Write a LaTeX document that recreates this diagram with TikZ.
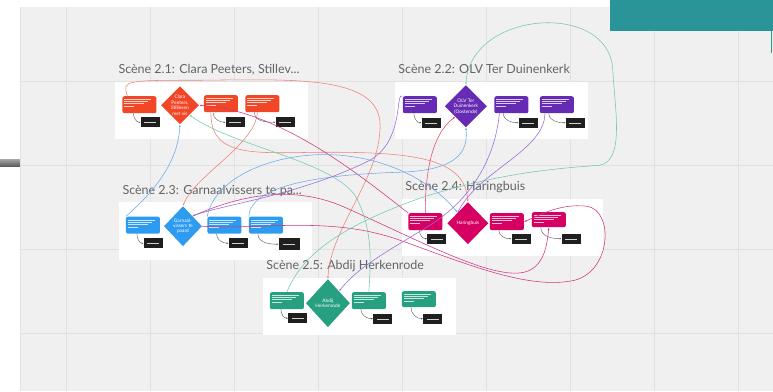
\documentclass[tikz,border=0pt]{standalone}
\usepackage{fontspec}
\setmainfont{Lato}
\usetikzlibrary{shapes.geometric,positioning,arrows.meta}
\definecolor{board}{RGB}{240,240,240}
\definecolor{gridgray}{RGB}{225,225,225}
\definecolor{titlegray}{RGB}{100,100,100}
\definecolor{miroteal}{RGB}{42,149,153}
\definecolor{sceneA}{RGB}{242,71,38}
\definecolor{sceneB}{RGB}{101,44,179}
\definecolor{sceneC}{RGB}{45,155,240}
\definecolor{sceneD}{RGB}{214,0,98}
\definecolor{sceneE}{RGB}{38,160,128}
\definecolor{lnsalmon}{RGB}{236,130,120}
\definecolor{lnred}{RGB}{232,70,100}
\definecolor{lnpurple}{RGB}{150,105,215}
\definecolor{lnblue}{RGB}{105,170,235}
\definecolor{lnteal}{RGB}{115,200,175}
\definecolor{lnmagenta}{RGB}{210,50,125}

\begin{document}
\begin{tikzpicture}[x=1pt, y=-1pt,
    panel/.style={fill=white, inner sep=0, minimum width=193, minimum height=57},
    title/.style={anchor=base west, text=titlegray, font=\fontsize{12.5}{14}\selectfont},
    tbox/.style={rounded corners=2pt, fill=#1, inner sep=0, minimum width=34, minimum height=17,
        path picture={\draw[white, line width=0.35pt, opacity=0.75]
            ([xshift=2pt,yshift=-3pt]path picture bounding box.north west) -- ++(27pt,0)
            ([xshift=2pt,yshift=-5pt]path picture bounding box.north west) -- ++(24pt,0)
            ([xshift=2pt,yshift=-7pt]path picture bounding box.north west) -- ++(20pt,0)
            ([xshift=2pt,yshift=-10pt]path picture bounding box.north west) -- ++(10pt,0);}},
    kbox/.style={fill=black!88, inner sep=0, minimum width=19, minimum height=10,
        path picture={\draw[white, line width=0.35pt, opacity=0.8]
            ([xshift=-6pt]path picture bounding box.center) -- ++(12pt,0);}},
    dia/.style={diamond, fill=#1, inner sep=0, text=white, align=center,
        font=\fontsize{4.8}{5.4}\selectfont, minimum width=38, minimum height=38},
    stub/.style={draw=black!65, line width=0.4pt, -{Latex[length=2pt]}},
    link/.style={draw=#1, line width=0.55pt, -{Latex[length=2.5pt]}}]

    % board
    \fill[white] (0,0) rectangle (773,391);
    \fill[board] (20,7) rectangle (773,391);
    \foreach \x in {66,150,...,738} \draw[gridgray] (\x,7) -- (\x,391);
    \foreach \y in {81,165,249,333} \draw[gridgray] (20,\y) -- (773,\y);
    \draw[gridgray] (20,7) -- (20,391);
    \shade[top color=black!35, bottom color=black!65] (0,159) rectangle (20,166);
    \fill[miroteal] (610,0) rectangle (773,31);
    \draw[miroteal, line width=1pt] (772,31) -- (772,53);

    % scene 2.1
    \node[panel] (P1) at (211.5,110) {};
    \node[title] (T1) at (115,73) {Scène 2.1: Clara Peeters, Stillev...};
    \node[dia=sceneA] (D1) at (180,105) {Clara\\Peeters,\\Stilleven\\met vis};
    \node[tbox=sceneA] (A1) at (139.5,104.5) {};
    \node[tbox=sceneA] (B1) at (221,103.5) {};
    \node[tbox=sceneA] (C1) at (262.5,103.5) {};
    \node[kbox] (K1) at (150.5,122) {};
    \node[kbox] (L1) at (235.5,122) {};
    \node[kbox] (M1) at (285.5,122) {};

    % scene 2.2
    \node[panel] (P2) at (491.5,110.5) {};
    \node[title] (T2) at (395,73) {Scène 2.2: OLV Ter Duinenkerk};
    \node[dia=sceneB, minimum width=42, minimum height=42] (D2) at (466,106) {OLV Ter\\Duinenkerk\\(Oostende)};
    \node[tbox=sceneB] (A2) at (420,104.5) {};
    \node[tbox=sceneB] (B2) at (511.5,104.5) {};
    \node[tbox=sceneB] (C2) at (557,104.5) {};
    \node[kbox] (K2) at (431.5,122.5) {};
    \node[kbox] (L2) at (528.5,122.5) {};
    \node[kbox] (M2) at (575.5,122.5) {};

    % scene 2.3
    \node[panel, minimum height=58] (P3) at (215.5,231) {};
    \node[title] (T3) at (119,194) {Scène 2.3: Garnaalvissers te pa...};
    \node[dia=sceneC, minimum height=40] (D3) at (183,226) {Garnaal-\\vissers te\\paard};
    \node[tbox=sceneC] (A3) at (143,225) {};
    \node[tbox=sceneC] (B3) at (224.5,225) {};
    \node[tbox=sceneC] (C3) at (266,225) {};
    \node[kbox] (K3) at (153.5,243) {};
    \node[kbox] (L3) at (238.5,243) {};
    \node[kbox, minimum width=21, minimum height=12] (M3) at (289.5,244) {};

    % scene 2.4
    \node[panel, minimum width=201] (P4) at (502.5,227.5) {};
    \node[title] (T4) at (402,190) {Scène 2.4: Haringbuis};
    \node[dia=sceneD, minimum width=41, minimum height=42] (D4) at (468,223) {Haringbuis};
    \node[tbox=sceneD] (A4) at (425.5,221.5) {};
    \node[tbox=sceneD] (B4) at (507,221.5) {};
    \node[tbox=sceneD, minimum height=15] (C4) at (549,219.5) {};
    \node[kbox] (K4) at (437,238.5) {};
    \node[kbox] (L4) at (521.5,238.5) {};
    \node[kbox] (M4) at (571.5,238.5) {};

    % scene 2.5
    \node[panel] (P5) at (359.5,306.5) {};
    \node[title] (T5) at (263,269) {Scène 2.5: Abdij Herkenrode};
    \node[dia=sceneE, minimum width=44, minimum height=48] (D5) at (328,303) {Abdij\\Herkenrode};
    \node[tbox=sceneE] (A5) at (287,300.5) {};
    \node[tbox=sceneE] (B5) at (369,300.5) {};
    \node[tbox=sceneE, minimum height=16] (C5) at (419,299) {};
    \node[kbox] (K5) at (298,318) {};
    \node[kbox] (L5) at (383,318.5) {};
    \node[kbox] (M5) at (433,318.5) {};

    % box to note
    \path ([xshift=-6pt]A1.south) edge[stub, out=-90, in=180] (K1.west)
          ([xshift=-8pt]B1.south) edge[stub, out=-90, in=180] (L1.west)
          ([xshift=-8pt]C1.south) edge[stub, out=-90, in=180] (M1.west)
          ([xshift=-6pt]A2.south) edge[stub, out=-90, in=180] (K2.west)
          ([xshift=-8pt]B2.south) edge[stub, out=-90, in=180] (L2.west)
          ([xshift=-8pt]C2.south) edge[stub, out=-90, in=180] (M2.west)
          ([xshift=-6pt]A3.south) edge[stub, out=-90, in=180] (K3.west)
          ([xshift=-8pt]B3.south) edge[stub, out=-90, in=180] (L3.west)
          ([xshift=-8pt]C3.south) edge[stub, out=-90, in=180] (M3.west)
          ([xshift=-6pt]A4.south) edge[stub, out=-90, in=180] (K4.west)
          ([xshift=-8pt]B4.south) edge[stub, out=-90, in=180] (L4.west)
          ([xshift=-8pt]C4.south) edge[stub, out=-90, in=180] (M4.west)
          ([xshift=-6pt]A5.south) edge[stub, out=-90, in=180] (K5.west)
          ([xshift=-8pt]B5.south) edge[stub, out=-90, in=180] (L5.west)
          ([xshift=-8pt]C5.south) edge[stub, out=-90, in=180] (M5.west);

    % links between scenes
    \draw[link=lnsalmon] ([xshift=-12pt]A1.north) .. controls (122,80) and (125,80) .. (200,80)
        .. controls (300,79) and (385,75) .. (380,130) .. controls (378,180) and (330,230) .. (D5.north);
    \draw[link=lnsalmon] ([xshift=-5pt]C1.south) .. controls (255,145) and (195,175) .. (D3.north);
    \draw[link=lnsalmon] ([xshift=-10pt]B1.south) .. controls (210,160) and (260,152) .. (330,152)
        .. controls (420,152) and (465,160) .. (D4.north);
    \draw[link=lnmagenta] (A4.north west) .. controls (360,175) and (280,110) .. (D1.east);
    \draw[link=lnmagenta] (D3.north east) .. controls (240,195) and (290,185) .. (340,205)
        .. controls (420,240) and (500,285) .. (530,270) .. controls (545,262) and (547,245) .. (C4.south);
    \draw[link=lnmagenta] (D3.east) .. controls (260,230) and (330,215) .. (400,240)
        .. controls (470,265) and (530,290) .. (575,280) .. controls (612,270) and (614,210) .. (587,206)
        .. controls (560,203) and (540,215) .. (B4.east);
    \draw[link=lnred] (A4.north) .. controls (425,180) and (430,135) .. (D2.south west);
    \draw[link=lnblue] (A3.north west) .. controls (150,195) and (178,165) .. (D1.south);
    \draw[link=lnblue] (B3.north west) .. controls (215,175) and (280,150) .. (340,155)
        .. controls (400,160) and (440,190) .. (D4.north west);
    \draw[link=lnblue] (C3.north west) .. controls (250,190) and (300,175) .. (400,172)
        .. controls (460,170) and (468,150) .. (D2.south);
    \draw[link=lnteal] (B5.north) .. controls (370,270) and (375,230) .. (355,195)
        .. controls (330,160) and (230,145) .. (D1.south east);
    \draw[link=lnteal] (A5.north) .. controls (300,260) and (330,230) .. (420,198)
        .. controls (500,172) and (560,168) .. (600,165) .. controls (625,160) and (615,110) .. (613,70)
        .. controls (610,0) and (470,10) .. (D2.north);
    \draw[link=lnpurple] (A2.north west) .. controls (395,90) and (405,140) .. (370,160)
        .. controls (300,195) and (220,205) .. (D3.north east);
    \draw[link=lnpurple] ([xshift=-12pt]B2.south) .. controls (495,160) and (470,200) .. (430,225)
        .. controls (390,250) and (360,265) .. (D5.north east);
    \draw[link=lnpurple] ([xshift=-12pt]C2.south) .. controls (545,150) and (480,170) .. (D4.north west);
\end{tikzpicture}
\end{document}
